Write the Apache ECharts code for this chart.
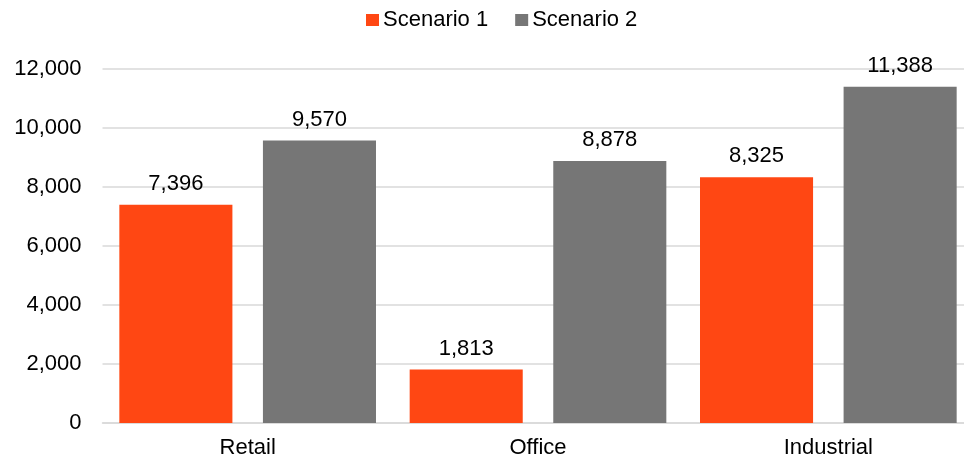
<!DOCTYPE html>
<html><head><meta charset="utf-8">
<script src="https://cdn.jsdelivr.net/npm/echarts@6/dist/echarts.min.js"></script>
<style>html,body{margin:0;padding:0;background:#fff;overflow:hidden;width:964px;height:461px}#c{width:975px;height:461px}</style>
</head><body><div id="c"></div>
<script>
var categories = ['Retail', 'Office', 'Industrial'];
var scenario1 = [7396, 1813, 8325];
var scenario2 = [9570, 8878, 11388];
var seriesNames = ['Scenario 1', 'Scenario 2'];
var font = '"Liberation Sans", Arial, sans-serif';
var chart = echarts.init(document.getElementById('c'), null, {renderer: 'canvas'});
var label = {show: true, position: 'top', distance: 10, color: '#000', fontSize: 22, fontFamily: font,
  formatter: function(p){ return p.value.toLocaleString('en-US'); }};
chart.setOption({
  animation: false,
  legend: {
    data: seriesNames, top: 9, left: 366, padding: 0, itemWidth: 13, itemHeight: 12, itemGap: 27,
    icon: 'rect', textStyle: {fontSize: 22, fontFamily: font, color: '#000', padding: [0,0,0,-1]}
  },
  grid: {left: 102.5, right: 1.5, top: 68.7, bottom: 38, containLabel: false},
  xAxis: {
    type: 'category', data: categories,
    axisLine: {lineStyle: {color: '#d9d9d9', width: 1.5}},
    axisTick: {show: false},
    axisLabel: {color: '#000', fontSize: 22, fontFamily: font, margin: 14}
  },
  yAxis: {
    type: 'value', min: 0, max: 12000, interval: 2000,
    axisLine: {show: false}, axisTick: {show: false},
    splitLine: {lineStyle: {color: '#d9d9d9', width: 1.5}},
    axisLabel: {color: '#000', fontSize: 22, fontFamily: font, margin: 21,
      formatter: function(v){ return v.toLocaleString('en-US'); }}
  },
  series: [
    {name: seriesNames[0], type: 'bar', data: scenario1, itemStyle: {color: '#FF4713'},
     barGap: '27%', barCategoryGap: '11.6%', label: label},
    {name: seriesNames[1], type: 'bar', data: scenario2, itemStyle: {color: '#767676'},
     barGap: '27%', barCategoryGap: '11.6%', label: label}
  ]
});
</script></body></html>
